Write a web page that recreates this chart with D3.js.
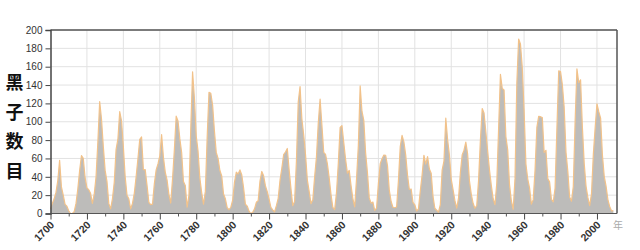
<!DOCTYPE html>
<html><head><meta charset="utf-8">
<script src="https://cdn.jsdelivr.net/npm/d3@7"></script>
<style>
html,body{margin:0;padding:0;background:#fff;}
svg{display:block;}
</style></head>
<body>
<svg id="c" width="640" height="250"></svg>
<script>
// Yearly sunspot numbers, 1700 onward
const startYear = 1700;
const sunspots = [
5,11,16,23,36,58,29,20,10,8,
3,0,0,2,11,27,47,63,60,39,
28,26,22,11,21,40,78,122,103,73,
47,35,11,5,16,34,70,81,111,101,
73,40,20,16,5,11,22,40,60,80.9,
83.4,47.7,47.8,30.7,12.2,9.6,10.2,32.4,47.6,54,
62.9,85.9,61.2,45.1,36.4,20.9,11.4,37.8,69.8,106.1,
100.8,81.6,66.5,34.8,30.6,7,19.8,92.5,154.4,125.9,
84.8,68.1,38.5,22.8,10.2,24.1,82.9,132,130.9,118.1,
89.9,66.6,60,46.9,41,21.3,16,6.4,4.1,6.8,
14.5,34,45,43.1,47.5,42.2,28.1,10.1,8.1,2.5,
0,1.4,5,12.2,13.9,35.4,45.8,41.1,30.1,23.9,
15.6,6.6,4,1.8,8.5,16.6,36.3,49.6,64.2,67,
70.9,47.8,27.5,8.5,13.2,56.9,121.5,138.3,103.2,85.7,
64.6,36.7,24.2,10.7,15,40.1,61.5,98.5,124.7,96.3,
66.6,64.5,54.1,39,20.6,6.7,4.3,22.7,54.8,93.8,
95.8,77.2,59.1,44,47,30.5,16.3,7.3,37.6,74,
139,111.2,101.6,66.2,44.7,17,11.3,12.4,3.4,6,
32.3,54.3,59.7,63.7,63.5,52.2,25.4,13.1,6.8,6.3,
7.1,35.6,73,85.1,78,64,41.8,26.2,26.7,12.1,
9.5,2.7,5,24.4,42,63.5,53.8,62,48.5,43.9,
18.6,5.7,3.6,1.4,9.6,47.4,57.1,103.9,80.6,63.6,
37.6,26.1,14.2,5.8,16.7,44.3,63.9,69,77.8,64.9,
35.7,21.2,11.1,5.7,8.7,36.1,79.7,114.4,109.6,88.8,
67.8,47.5,30.6,16.3,9.6,33.2,92.6,151.6,136.3,134.7,
83.9,69.4,31.5,13.9,4.4,38,141.7,190.2,184.8,159,
112.3,53.9,37.6,27.9,10.2,15.1,47,93.8,105.9,105.5,
104.5,66.6,68.9,38,34.5,15.5,12.6,27.5,92.5,155.4,
154.6,140.4,115.9,66.6,45.9,17.9,13.4,29.4,100.2,157.6,
142.6,145.7,94.3,54.6,29.9,17.5,8.6,21.5,64.3,93.3,
119.6,111,104,63.7,40.4,29.8,15.2,7.5,2.9,3.1
];
const xLabelYears = [1700,1720,1740,1760,1780,1800,1820,1840,1860,1880,1900,1920,1940,1960,1980,2000];
const xMinorYears = [1710,1730,1750,1770,1790,1810,1830,1850,1870,1890,1910,1930,1950,1970,1990];
const yTicks = [0,20,40,60,80,100,120,140,160,180,200];
const yTitle = ["黑","子","数","目"];
const xTitle = "年";

const svg = d3.select("#c");
const L = 50.5, R = 617, T = 30, B = 213.5;
const x = d3.scaleLinear().domain([1700, 2011]).range([L, R]);
const y = d3.scaleLinear().domain([0, 200]).range([B, T]);
const data = sunspots.map((v, i) => ({year: startYear + i, v}));

// grid
svg.append("g").selectAll("line.h").data(yTicks.slice(1)).join("line")
  .attr("x1", L).attr("x2", R).attr("y1", d => y(d)).attr("y2", d => y(d))
  .attr("stroke", "#e2e2e2").attr("stroke-width", 1);
svg.append("g").selectAll("line.v").data(xLabelYears.slice(1)).join("line")
  .attr("x1", d => x(d)).attr("x2", d => x(d)).attr("y1", T).attr("y2", B)
  .attr("stroke", "#e2e2e2").attr("stroke-width", 1);

// area + line
const area = d3.area().x(d => x(d.year)).y0(y(0)).y1(d => y(d.v));
const line = d3.line().x(d => x(d.year)).y(d => y(d.v));
svg.append("path").datum(data).attr("d", area).attr("fill", "#bdbcba");
svg.append("path").datum(data).attr("d", line).attr("fill", "none")
  .attr("stroke", "#f2c28a").attr("stroke-width", 1.2).attr("stroke-linejoin", "round");

// frame
svg.append("line").attr("x1", L).attr("x2", R).attr("y1", T).attr("y2", T).attr("stroke", "#555").attr("stroke-width", 1.5);
svg.append("line").attr("x1", R).attr("x2", R).attr("y1", T).attr("y2", B).attr("stroke", "#555").attr("stroke-width", 1.5);

// y axis
const yAxis = d3.axisLeft(y).tickValues(yTicks).tickSize(5).tickPadding(3);
const gy = svg.append("g").attr("transform", `translate(${L},0)`).call(yAxis);
gy.select(".domain").attr("stroke", "#444").attr("stroke-width", 1.5);
gy.selectAll(".tick line").attr("stroke", "#444");
gy.selectAll("text").attr("font-family", "Liberation Sans, Arial, sans-serif").attr("font-size", 10).attr("fill", "#333");

// x axis: major ticks with labels
const gx = svg.append("g").attr("transform", `translate(0,${B})`)
  .call(d3.axisBottom(x).tickValues(xLabelYears).tickSize(6).tickFormat(d3.format("d")));
gx.select(".domain").attr("stroke", "#555").attr("stroke-width", 1).attr("d", `M${L},0H${R}`);
gx.selectAll(".tick line").attr("stroke", "#444");
gx.selectAll("text")
  .attr("font-family", "Liberation Sans, Arial, sans-serif").attr("font-size", 10.5).attr("font-weight", "bold").attr("fill", "#333")
  .attr("text-anchor", "end").attr("dy", null).attr("y", 0)
  .attr("transform", "translate(4,12) rotate(-45)");
// minor ticks
const gm = svg.append("g").attr("transform", `translate(0,${B})`)
  .call(d3.axisBottom(x).tickValues(xMinorYears).tickSize(3).tickFormat(""));
gm.select(".domain").remove();
gm.selectAll(".tick line").attr("stroke", "#555");

// titles
svg.append("g").selectAll("text").data(yTitle).join("text")
  .attr("x", 14.5).attr("y", (d, i) => 89 + i * 29.5)
  .attr("text-anchor", "middle")
  .attr("font-family", "Noto Sans CJK SC").attr("font-weight", "bold").attr("font-size", 18).attr("fill", "#111")
  .text(d => d);
svg.append("text").attr("x", 618).attr("y", 229).attr("text-anchor", "middle")
  .attr("font-family", "Noto Sans CJK SC").attr("font-size", 10).attr("fill", "#aaa").text(xTitle);
</script>
</body></html>
